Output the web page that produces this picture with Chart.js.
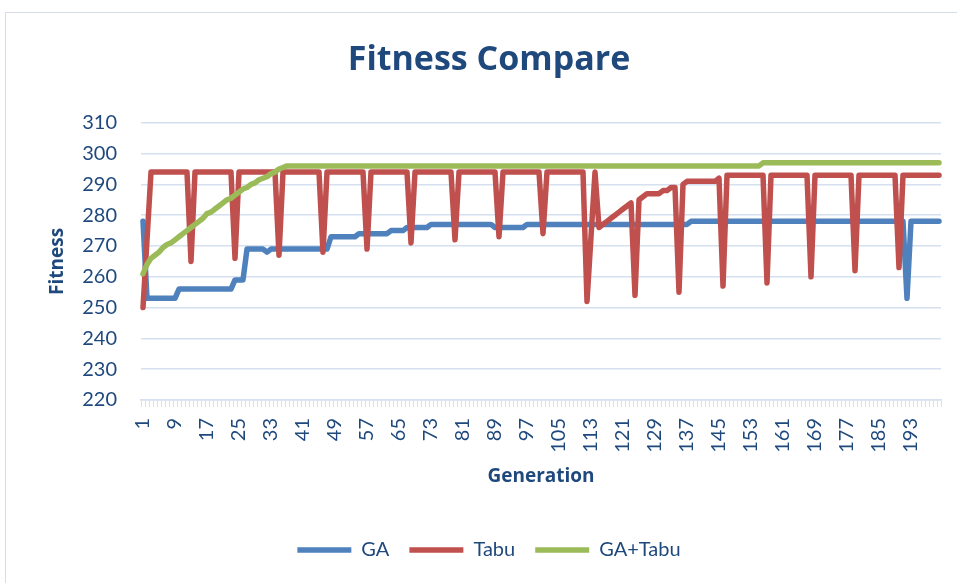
<!DOCTYPE html>
<html>
<head>
<meta charset="utf-8">
<script src="https://cdn.jsdelivr.net/npm/chart.js@4.4.1/dist/chart.umd.min.js"></script>
<style>
html,body{margin:0;padding:0;background:#fff;}
#wrap{position:relative;width:957px;height:583px;overflow:hidden;background:#fff;}
#frame{position:absolute;left:5px;top:12px;width:990px;height:600px;border:1px solid #d6dde8;box-sizing:border-box;}
canvas{position:absolute;left:0;top:0;}
</style>
</head>
<body>
<div id="wrap"><div id="frame"></div><canvas id="c" width="957" height="583"></canvas></div>
<script>
// Categories: generation numbers 1..200
const generations = Array.from({length: 200}, (_, i) => i + 1);
// Tick labels shown on the x axis
const tickLabels = [1, 9, 17, 25, 33, 41, 49, 57, 65, 73, 81, 89, 97, 105, 113, 121, 129, 137, 145, 153, 161, 169, 177, 185, 193];
const yTicks = [220, 230, 240, 250, 260, 270, 280, 290, 300, 310];

const gaValues = [
  278,253,253,253,253,253,253,253,253,256,
  256,256,256,256,256,256,256,256,256,256,
  256,256,256,259,259,259,269,269,269,269,
  269,268,269,269,269,269,269,269,269,269,
  269,269,269,269,269,269,269,273,273,273,
  273,273,273,273,274,274,274,274,274,274,
  274,274,275,275,275,275,276,276,276,276,
  276,276,277,277,277,277,277,277,277,277,
  277,277,277,277,277,277,277,277,276,276,
  276,276,276,276,276,276,277,277,277,277,
  277,277,277,277,277,277,277,277,277,277,
  277,277,277,277,277,277,277,277,277,277,
  277,277,277,277,277,277,277,277,277,277,
  277,277,277,277,277,277,277,278,278,278,
  278,278,278,278,278,278,278,278,278,278,
  278,278,278,278,278,278,278,278,278,278,
  278,278,278,278,278,278,278,278,278,278,
  278,278,278,278,278,278,278,278,278,278,
  278,278,278,278,278,278,278,278,278,278,
  278,253,278,278,278,278,278,278,278,278
];

const tabuValues = [
  250,272,294,294,294,294,294,294,294,294,
  294,294,265,294,294,294,294,294,294,294,
  294,294,294,266,294,294,294,294,294,294,
  294,294,294,294,267,294,294,294,294,294,
  294,294,294,294,294,268,294,294,294,294,
  294,294,294,294,294,294,269,294,294,294,
  294,294,294,294,294,294,294,271,294,294,
  294,294,294,294,294,294,294,294,272,294,
  294,294,294,294,294,294,294,294,294,273,
  294,294,294,294,294,294,294,294,294,294,
  274,294,294,294,294,294,294,294,294,294,
  294,252,273,294,276,277,278,279,280,281,
  282,283,284,254,285,286,287,287,287,287,
  288,288,289,289,255,290,291,291,291,291,
  291,291,291,291,292,257,293,293,293,293,
  293,293,293,293,293,293,258,293,293,293,
  293,293,293,293,293,293,293,260,293,293,
  293,293,293,293,293,293,293,293,262,293,
  293,293,293,293,293,293,293,293,293,263,
  293,293,293,293,293,293,293,293,293,293
];

const gaTabuValues = [
  261,264,266,267,268,269.5,270.5,271,272,273,
  274,275,276,277,278,279,280.5,281,282,283,
  284,285,285.5,286.5,287.5,288.5,289,290,290.5,291.5,
  292,292.5,293.5,294,295,295.5,296,296,296,296,
  296,296,296,296,296,296,296,296,296,296,
  296,296,296,296,296,296,296,296,296,296,
  296,296,296,296,296,296,296,296,296,296,
  296,296,296,296,296,296,296,296,296,296,
  296,296,296,296,296,296,296,296,296,296,
  296,296,296,296,296,296,296,296,296,296,
  296,296,296,296,296,296,296,296,296,296,
  296,296,296,296,296,296,296,296,296,296,
  296,296,296,296,296,296,296,296,296,296,
  296,296,296,296,296,296,296,296,296,296,
  296,296,296,296,296,296,296,296,296,296,
  296,296,296,296,296,297,297,297,297,297,
  297,297,297,297,297,297,297,297,297,297,
  297,297,297,297,297,297,297,297,297,297,
  297,297,297,297,297,297,297,297,297,297,
  297,297,297,297,297,297,297,297,297,297
];

const FONT = "Lato, 'Open Sans', sans-serif";
const BOLD = "'Open Sans', Lato, sans-serif";
const TXT = '#1f497d';
const GRID = '#d5e0f0';

function lineDs(label, data, color, order) {
  return {
    label, data, order,
    borderColor: color, backgroundColor: color,
    borderWidth: 5.5, pointRadius: 0, pointHoverRadius: 0,
    tension: 0, borderJoinStyle: 'round', borderCapStyle: 'round', fill: false
  };
}

const TITLE_SIZE = 34;
const TITLE_TOP = 40;

new Chart(document.getElementById('c'), {
  type: 'line',
  data: {
    labels: generations,
    datasets: [
      lineDs('GA', gaValues, '#4f81bd', 3),
      lineDs('Tabu', tabuValues, '#c0504d', 2),
      lineDs('GA+Tabu', gaTabuValues, '#9bbb59', 1)
    ]
  },
  options: {
    responsive: false,
    animation: false,
    devicePixelRatio: 1,
    layout: {padding: {left: 37, right: 16, top: 0, bottom: 13}},
    plugins: {
      title: {
        display: true, text: 'Fitness Compare', color: TXT,
        font: {family: BOLD, size: TITLE_SIZE, weight: 'bold', lineHeight: 1.2},
        padding: {top: TITLE_TOP, bottom: 122.8 - TITLE_TOP - TITLE_SIZE * 1.2}
      },
      legend: {
        position: 'bottom',
        labels: {
          usePointStyle: true, pointStyle: 'line', pointStyleWidth: 54,
          color: TXT, font: {family: FONT, size: 20}, padding: 20,
          sort: (a, b) => a.datasetIndex - b.datasetIndex
        }
      },
      tooltip: {enabled: false}
    },
    scales: {
      x: {
        type: 'category', offset: true,
        grid: {display: true, drawOnChartArea: false, drawTicks: true, tickLength: 7, color: GRID, offset: true, lineWidth: 1},
        border: {display: true, color: GRID, width: 1.5},
        ticks: {
          autoSkip: false, minRotation: 90, maxRotation: 90, padding: 11,
          color: TXT, font: {family: FONT, size: 20},
          callback: function(v) { const l = this.getLabelForValue(v); return tickLabels.includes(Number(l)) ? String(l) : ''; }
        },
        title: {display: true, text: 'Generation', color: TXT, font: {family: BOLD, size: 19, weight: 'bold'}, padding: {top: 0, bottom: 32}},
        afterFit: (s) => { s.height = 120; s.paddingLeft = 0; s.paddingRight = 0; }
      },
      y: {
        min: 220, max: 310,
        afterBuildTicks: (s) => { s.ticks = yTicks.map(v => ({value: v})); },
        ticks: {padding: 24, color: TXT, font: {family: FONT, size: 20}},
        grid: {color: GRID, lineWidth: 1.5, drawTicks: false},
        border: {display: false},
        title: {display: true, text: 'Fitness', color: TXT, font: {family: BOLD, size: 19, weight: 'bold'}, padding: {top: 9, bottom: 0}},
        afterFit: (s) => { s.width = 104; s.paddingTop = 0; s.paddingBottom = 0; }
      }
    }
  }
});
</script>
</body>
</html>
